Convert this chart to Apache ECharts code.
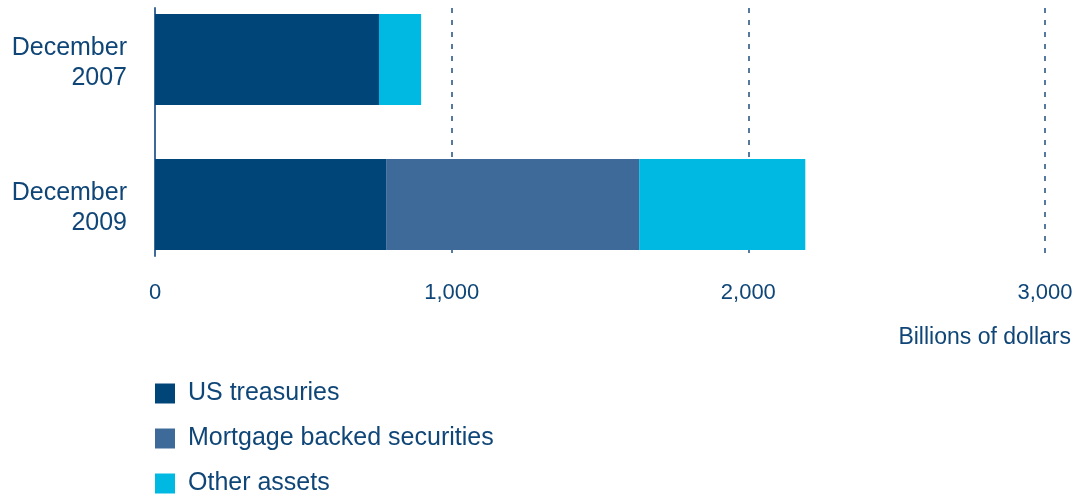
<!DOCTYPE html>
<html>
<head>
<meta charset="utf-8">
<script src="https://cdn.jsdelivr.net/npm/echarts@6/dist/echarts.min.js"></script>
<style>
html,body{margin:0;padding:0;background:#fff;overflow:hidden;width:1089px;height:495px;}
#chart{position:relative;top:-13px;width:1089px;height:508px;}
</style>
</head>
<body>
<div id="chart"></div>
<script>
const categories = ['December\n2007', 'December\n2009'];
const usTreasuries = [755, 779];
const mortgageBacked = [0, 853];
const otherAssets = [142, 560];
const seriesNames = ['US treasuries', 'Mortgage backed securities', 'Other assets'];
const xTicks = [0, 1000, 2000, 3000];
const axisTitle = 'Billions of dollars';

const textColor = '#0f4677';
const colors = ['#004578', '#3e6a9a', '#00b9e3'];
const font = 'Liberation Sans, Arial, sans-serif';
const OFF = 13; // container is shifted up by this many px

const chart = echarts.init(document.getElementById('chart'), null, {renderer: 'canvas'});
const seriesData = [usTreasuries, mortgageBacked, otherAssets];

chart.setOption({
  animation: false,
  backgroundColor: '#fff',
  color: colors,
  textStyle: {fontFamily: font},
  grid: [
    {left: 155, right: 44, top: 8 + OFF, height: 248},
    {left: 155, right: 44, top: 0, height: 290},
    {left: 155, right: 44, top: 3.5, height: 290}
  ],
  xAxis: [
    {
      gridIndex: 0, type: 'value', min: xTicks[0], max: xTicks[xTicks.length - 1], interval: 1000,
      axisLine: {show: false}, axisTick: {show: false},
      axisLabel: {
        color: textColor, fontSize: 22, fontFamily: font, margin: 26,
        formatter: v => v.toLocaleString('en-US')
      },
      splitLine: {show: true, lineStyle: {color: '#1f4f80', width: 1.5, type: [5, 7]}}
    },
    {
      gridIndex: 1, type: 'value', min: xTicks[0], max: xTicks[xTicks.length - 1], interval: 1000,
      show: false, splitLine: {show: false}
    },
    {
      gridIndex: 2, type: 'value', min: xTicks[0], max: xTicks[xTicks.length - 1], interval: 1000,
      show: false, splitLine: {show: false}
    }
  ],
  yAxis: [
    {
      gridIndex: 0, type: 'category', data: categories, inverse: true,
      axisLine: {show: true, lineStyle: {color: '#3e6a9a', width: 2}},
      axisTick: {show: false}, axisLabel: {show: false}, splitLine: {show: false}
    },
    {
      gridIndex: 1, type: 'category', data: categories, inverse: true,
      axisLine: {show: false}, axisTick: {show: false}, axisLabel: {show: false}
    },
    {
      gridIndex: 2, type: 'category', data: categories, inverse: true,
      axisLine: {show: false}, axisTick: {show: false}, splitLine: {show: false},
      axisLabel: {
        color: textColor, fontSize: 25, fontFamily: font, margin: 28,
        lineHeight: 30, align: 'right'
      }
    }
  ],
  legend: {
    orient: 'vertical', left: 155, top: 381 + OFF, height: 200, padding: 0,
    itemWidth: 20, itemHeight: 20, itemGap: 20, icon: 'rect',
    textStyle: {color: textColor, fontSize: 25, fontFamily: font, padding: [0, 0, 0, 8]},
    data: seriesNames
  },
  graphic: [{
    type: 'text', right: 18, top: 326 + OFF,
    style: {text: axisTitle, fill: textColor, font: '23px ' + font}
  }],
  series: seriesNames.map((name, i) => ({
    name: name, type: 'bar', stack: 'total',
    xAxisIndex: 1, yAxisIndex: 1, barWidth: 91,
    data: seriesData[i],
    itemStyle: {color: colors[i]}
  }))
});
</script>
</body>
</html>
